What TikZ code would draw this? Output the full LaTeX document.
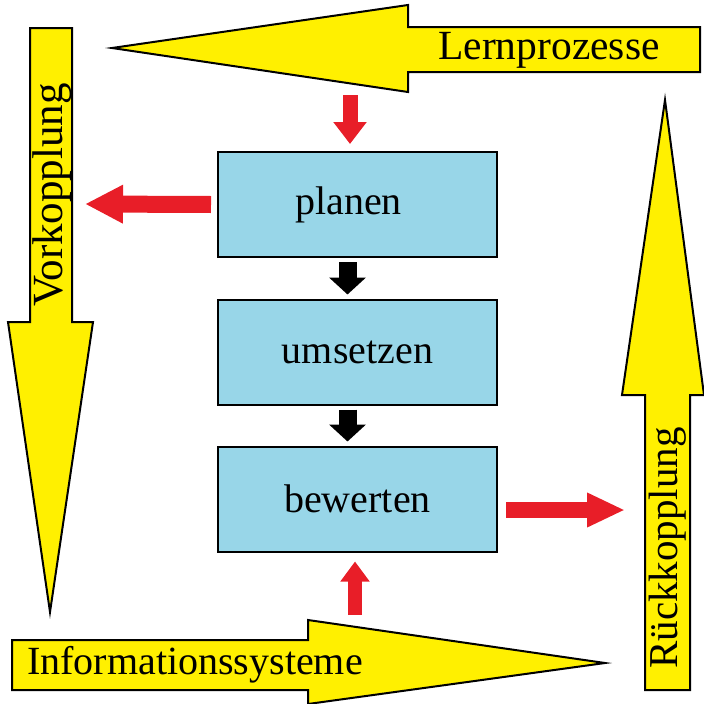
\documentclass[tikz,border=0pt]{standalone}
\usepackage{fontspec}
\setmainfont{Liberation Serif}
\usetikzlibrary{arrows.meta}
\definecolor{ayellow}{RGB}{255,240,0}
\definecolor{boxblue}{RGB}{152,214,232}
\definecolor{ared}{RGB}{232,30,40}
\begin{document}
\begin{tikzpicture}[x=1pt,y=-1pt,
  bigarrow/.style={fill=ayellow,draw=black,line width=2pt,line join=miter},
  bigtext/.style={inner sep=0pt},
  stepbox/.style={draw=black,line width=2pt,fill=boxblue,minimum width=279pt,minimum height=105pt,inner sep=0pt,font=\fontsize{40}{44}\selectfont},
  blackarrow/.style={line width=18pt,-{Triangle[width=36pt,length=17pt]},black},
  redarrow/.style={line width=15pt,-{Triangle[width=32pt,length=22pt]},ared}]
\useasboundingbox (0,0) rectangle (704,704);
% Lernprozesse (top, pointing left)
\draw[bigarrow] (112,48) -- (408,5) -- (408,27) -- (700,27) -- (700,72) -- (408,72) -- (408,92) -- cycle;
\node[bigtext,font=\fontsize{41.5}{44}\selectfont] (lern) at (549,50) {Lernprozesse};
% Vorkopplung (left, pointing down)
\draw[bigarrow] (30,28) -- (72,28) -- (72,322) -- (93,322) -- (50,612) -- (8,322) -- (30,322) -- cycle;
\node[bigtext,rotate=90,font=\fontsize{43}{44}\selectfont] (vor) at (52,195) {Vorkopplung};
% Informationssysteme (bottom, pointing right)
\draw[bigarrow] (12,640) -- (308,640) -- (308,620) -- (605,663) -- (308,704) -- (308,690) -- (12,690) -- cycle;
\node[bigtext,font=\fontsize{40}{44}\selectfont] (info) at (195,665) {Informationssysteme};
% Rueckkopplung (right, pointing up)
\draw[bigarrow] (645,690) -- (645,395) -- (622,395) -- (665,100) -- (704,395) -- (690,395) -- (690,690) -- cycle;
\node[bigtext,rotate=90,font=\fontsize{41}{44}\selectfont] (rueck) at (668,548) {Rückkopplung};
% boxes
\node[stepbox] (planen) at (357.5,204.5) {\hspace*{-18pt}planen};
\node[stepbox] (umsetzen) at (357.5,352) {umsetzen};
\node[stepbox] (bewerten) at (357.5,499) {bewerten};
% black arrows
\draw[blackarrow] ([xshift=-10pt,yshift=-4pt]planen.south) -- ([xshift=-10pt,yshift=4pt]umsetzen.north);
\draw[blackarrow] ([xshift=-10pt,yshift=-4pt]umsetzen.south) -- ([xshift=-10pt,yshift=4pt]bewerten.north);
% red arrows
\coordinate (rtop) at (350,95);
\coordinate (rleft) at (85,204);
\coordinate (rright) at (625,510);
\coordinate (rbot) at (355,615);
\draw[redarrow] (rtop) -- ([xshift=-7.5pt,yshift=7pt]planen.north);
\draw[redarrow,line width=17pt,-{Triangle[width=36pt,length=38pt]}] ([xshift=-6pt]planen.west) -- (rleft);
\draw[redarrow,line width=16pt,-{Triangle[width=32pt,length=38pt]}] ([xshift=8pt,yshift=-11pt]bewerten.east) -- (rright);
\draw[redarrow,line width=14pt,-{Triangle[width=28pt,length=20pt]}] (rbot) -- ([xshift=-2.5pt,yshift=-9pt]bewerten.south);
\end{tikzpicture}
\end{document}
